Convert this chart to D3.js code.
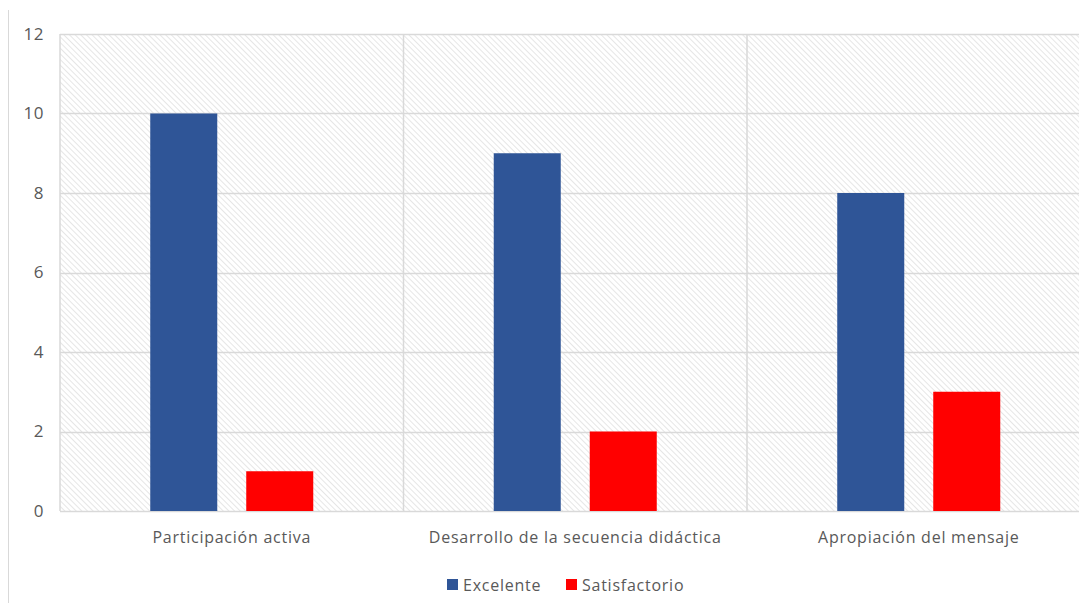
<!DOCTYPE html>
<html><head><meta charset="utf-8">
<script src="https://cdn.jsdelivr.net/npm/d3@7"></script>
<style>body{margin:0;background:#fff}svg{display:block}text{font-family:"Open Sans","Liberation Sans",sans-serif;fill:#595959}</style>
</head><body>
<script>
const categories = ["Participación activa","Desarrollo de la secuencia didáctica","Apropiación del mensaje"];
const seriesNames = ["Excelente","Satisfactorio"];
const excelente = [10, 9, 8];
const satisfactorio = [1, 2, 3];
const yTicks = [0,2,4,6,8,10,12];
const colors = ["#2F5597","#FF0000"];

const W=1079,H=603;
const svg=d3.select("body").append("svg").attr("width",W).attr("height",H);
const defs=svg.append("defs");
const pat=defs.append("pattern").attr("id","hatch").attr("patternUnits","userSpaceOnUse")
  .attr("width",4).attr("height",4).attr("patternTransform","rotate(-45)");
pat.append("rect").attr("width",4).attr("height",4).attr("fill","#fff");
pat.append("line").attr("x1",0).attr("y1",0).attr("x2",0).attr("y2",4).attr("stroke","#dcdcdc").attr("stroke-width",1.4);

const m={l:60,t:34,r:1090.5,b:511};
const x=d3.scaleBand().domain(categories).range([m.l,m.r]).paddingInner(0).paddingOuter(0);
const y=d3.scaleLinear().domain([0,12]).range([m.b,m.t]);
const xs=d3.scaleBand().domain(seriesNames).range([0,x.bandwidth()]).paddingInner(0.302).paddingOuter(0.94);

const FS="16px", LS="0.75px";
const fam='"Open Sans","Liberation Sans",sans-serif';

// left border line
svg.append("line").attr("x1",8.5).attr("x2",8.5).attr("y1",10).attr("y2",H).attr("stroke","#d9d9d9");

svg.append("rect").attr("x",m.l).attr("y",m.t).attr("width",m.r-m.l).attr("height",m.b-m.t).attr("fill","url(#hatch)");

// grid
svg.append("g").selectAll("line").data(yTicks).join("line")
  .attr("x1",m.l).attr("x2",m.r).attr("y1",d=>Math.round(y(d))+0.5).attr("y2",d=>Math.round(y(d))+0.5)
  .attr("stroke","#d9d9d9").attr("stroke-width",1.5);
svg.append("g").selectAll("line").data(d3.range(categories.length+1)).join("line")
  .attr("x1",i=>m.l+i*x.bandwidth()).attr("x2",i=>m.l+i*x.bandwidth()).attr("y1",m.t).attr("y2",m.b)
  .attr("stroke","#d9d9d9").attr("stroke-width",1.5);

// bars
const data=[excelente,satisfactorio];
data.forEach((vals,si)=>{
  svg.append("g").selectAll("rect").data(vals).join("rect")
    .attr("x",(d,i)=>x(categories[i])+xs(seriesNames[si]))
    .attr("width",xs.bandwidth())
    .attr("y",d=>y(d)).attr("height",d=>y(0)-y(d)).attr("fill",colors[si]);
});

// y axis labels
const ya=svg.append("g").attr("transform",`translate(${m.l},0)`)
  .call(d3.axisLeft(y).tickValues(yTicks).tickSize(0).tickPadding(16));
ya.select(".domain").remove();
ya.selectAll("text").style("font-size","17px").attr("fill","#595959").style("font-family",fam).style("letter-spacing","0.5px");

// x axis labels
const xa=svg.append("g").attr("transform",`translate(0,${m.b})`)
  .call(d3.axisBottom(x).tickSize(0).tickPadding(21));
xa.select(".domain").remove();
xa.selectAll("text").style("font-size",FS).attr("fill","#595959").style("font-family",fam).style("letter-spacing",LS);

// legend
const leg=svg.append("g");
const lx=[447,566];
seriesNames.forEach((s,i)=>{
  leg.append("rect").attr("x",lx[i]).attr("y",579).attr("width",11).attr("height",11).attr("fill",colors[i]);
  leg.append("text").attr("x",lx[i]+16).attr("y",591).style("font-size",FS).style("letter-spacing",LS).text(s);
});
</script>
</body></html>
